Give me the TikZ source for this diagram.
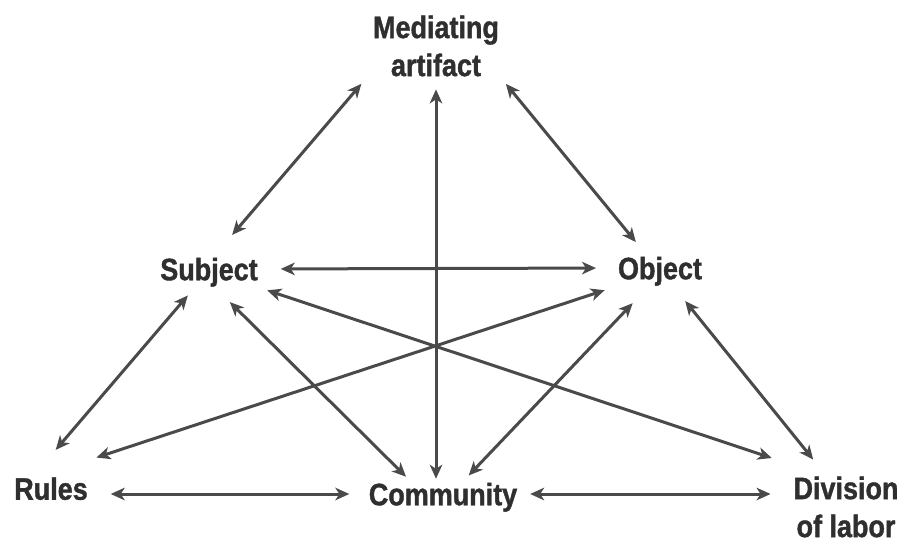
\documentclass[tikz,border=0pt]{standalone}
\usepackage{fontspec}
\setmainfont{Liberation Sans}[FakeStretch=0.87, BoldFeatures={FakeBold=1.2}]
\usetikzlibrary{arrows.meta}
\usepackage{xcolor}
\definecolor{txtgray}{HTML}{2F2F2F}
\definecolor{arrgray}{HTML}{4A4A4A}

\begin{document}
\begin{tikzpicture}[x=1pt, y=-1pt,
    lbl/.style={font=\fontsize{31}{38}\selectfont\bfseries, text=txtgray, inner sep=0pt, outer sep=0pt},
    one/.style={lbl, text height=22.5pt, text depth=0pt},
    two/.style={lbl, align=center},
    arr/.style={{Stealth[length=14pt, width=12.5pt, inset=4pt]}-{Stealth[length=14pt, width=12.5pt, inset=4pt]}, line width=3pt, draw=arrgray}]
    \path[use as bounding box, fill=white] (0,0) rectangle (907,545);

    % Nodes
    \node (art) [two] at (436,46) {Mediating\\artifact};
    \node (subj) [one] at (209,269) {Subject};
    \node (obj) [one] at (660,268) {Object};
    \node (rules) [one] at (51,488.5) {Rules};
    \node (comm) [one] at (443,494) {Community};
    \node (div) [two] at (846,507) {Division\\of labor};

    % Arrows
    \draw[arr, shorten <=18pt, shorten >=30pt] (art.201) -- (subj.72);
    \draw[arr, shorten <=11pt, shorten >=19pt] (art.-25) -- (obj.137);
    \draw[arr, shorten <=13pt, shorten >=4pt] (art.south) -- (art.south |- comm.north);

    \draw[arr, shorten <=23pt, shorten >=22pt] (subj.east) -- (obj.west);
    \draw[arr, shorten <=20pt, shorten >=36pt] (subj.234) -- (rules.149);
    \draw[arr, shorten <=31pt, shorten >=8.5pt] (subj.264) -- (comm.160);
    \draw[arr, shorten <=32pt, shorten >=59pt] (subj.-22) -- (div.121);

    \draw[arr, shorten <=35pt, shorten >=63pt] (obj.207) -- (rules.142);
    \draw[arr, shorten <=33pt, shorten >=10pt] (obj.248) -- (comm.31);
    \draw[arr, shorten <=28pt, shorten >=22pt] (obj.-56) -- (div.122);

    \draw[arr, shorten <=23pt, shorten >=19.5pt] (rules.east |- comm.west) -- (comm.west);
    \draw[arr, shorten <=13pt, shorten >=23pt] (comm.east) -- (comm.east -| div.west);
\end{tikzpicture}
\end{document}
